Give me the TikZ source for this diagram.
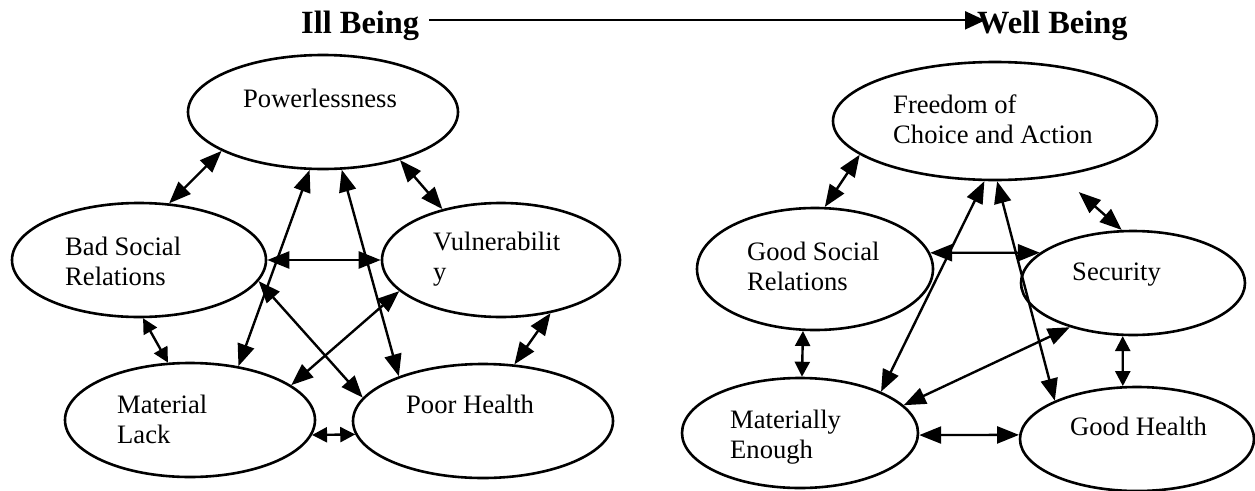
\documentclass[tikz,border=0pt]{standalone}
\usepackage{fontspec}
\setmainfont{Liberation Serif}
\usetikzlibrary{arrows.meta, shapes.geometric}

\begin{document}
\begin{tikzpicture}[x=1pt, y=-1pt,
	bubble/.style={draw, ellipse, line width=2.6pt, inner sep=0pt},
	lbl/.style={anchor=base west, inner sep=0pt, align=left, font=\fontsize{26.6}{30}\selectfont},
	head/.style={anchor=base west, inner sep=0pt, font=\fontsize{32.4}{36}\selectfont\bfseries},
	link/.style={{Triangle[length=22pt,width=17pt]}-{Triangle[length=22pt,width=17pt]}, line width=2.4pt},
	shortlink/.style={{Triangle[length=15pt,width=15pt]}-{Triangle[length=15pt,width=15pt]}, line width=2.4pt}]
	\useasboundingbox (0,0) rectangle (1255,490);

	% heading
	\node[head] (ill) at (301,33) {Ill Being};
	\node[head] (well) at (977,33) {Well Being};
	\draw[-{Triangle[length=20pt,width=18pt]}, line width=2.2pt, shorten <=10pt, shorten >=-8pt] ([yshift=5pt]ill.east) -- ([yshift=5pt]well.west);

	% ill being
	\node[bubble, minimum width=270pt, minimum height=114pt] (pow) at (323,112) {};
	\node[bubble, minimum width=254pt, minimum height=114pt] (bad) at (139,260) {};
	\node[bubble, minimum width=238pt, minimum height=114pt] (vul) at (501,260) {};
	\node[bubble, minimum width=250pt, minimum height=114pt] (mat) at (190,420) {};
	\node[bubble, minimum width=260pt, minimum height=114pt] (poo) at (483,421) {};

	\node[lbl] (pow-t) at (243,107) {Powerlessness};
	\node[lbl] (bad-t) at (65,285) {Bad Social\\Relations};
	\node[lbl] (vul-t) at (433,280) {Vulnerabilit\\y};
	\node[lbl] (mat-t) at (117,443) {Material\\Lack};
	\node[lbl] (poo-t) at (406,413) {Poor Health};

	\draw[link] (pow.201) -- (bad.62);
	\draw[link] (pow.328) -- (vul.139);
	\draw[link] (pow.257) -- (mat.48);
	\draw[link] (pow.288) -- (poo.152);
	\draw[link] (bad.0) -- (vul.180);
	\draw[link] (bad.350) -- (poo.169);
	\draw[link] (vul.197) -- (mat.19);
	\draw[shortlink] (bad.274) -- (mat.111);
	\draw[link] (vul.313) -- (poo.61);
	\draw[shortlink] (mat.353) -- (poo.186);

	% well being
	\node[bubble, minimum width=324pt, minimum height=118pt] (fre) at (995,121) {};
	\node[bubble, minimum width=236pt, minimum height=122pt] (gso) at (815,269) {};
	\node[bubble, minimum width=224pt, minimum height=104pt] (sec) at (1133,283) {};
	\node[bubble, minimum width=236pt, minimum height=110pt] (men) at (800,433) {};
	\node[bubble, minimum width=234pt, minimum height=104pt] (ghe) at (1137,439) {};

	\node[lbl] (fre-t) at (893,143) {Freedom of\\Choice and Action};
	\node[lbl] (gso-t) at (747,290) {Good Social\\Relations};
	\node[lbl] (sec-t) at (1072,280) {Security};
	\node[lbl] (men-t) at (730,458) {Materially\\Enough};
	\node[lbl] (ghe-t) at (1070,435) {Good Health};

	\draw[link] (fre.194) -- (gso.81);
	\draw[link] (fre.260) -- (men.27);
	\draw[link] (fre.272) -- (ghe.155);
	\draw[link, shorten <=24pt] (fre.320) -- (sec.102);
	\draw[link] (gso.8) -- (sec.162);
	\draw[link] (sec.215) -- (men.15);
	\draw[shortlink] (gso.259) -- (men.88);
	\draw[shortlink] (sec.259) -- (ghe.105);
	\draw[link] (men.359) -- (ghe.178);
\end{tikzpicture}
\end{document}
